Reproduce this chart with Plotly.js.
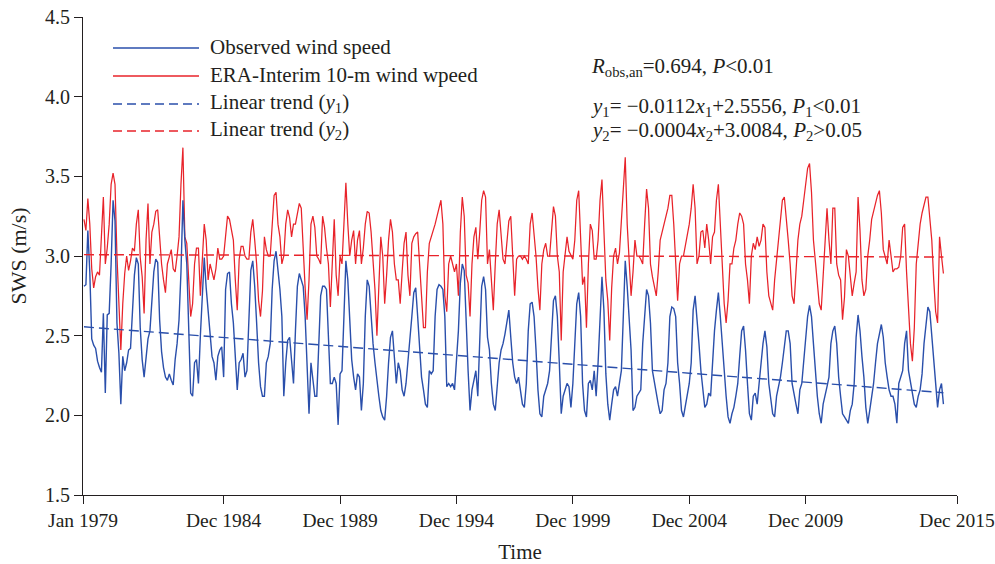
<!DOCTYPE html>
<html><head><meta charset="utf-8">
<script src="https://cdn.plot.ly/plotly-3.0.1.min.js"></script>
<style>html,body{margin:0;padding:0;background:#fff}#chart{width:995px;height:564px}</style>
</head><body><div id="chart"></div>
<script>
// Monthly series, Jan 1979 – Dec 2015 (one row per year, Jan..Dec)
const observedName = 'Observed wind speed';
const observed = [
2.81,2.82,3.16,2.90,2.48,2.44,2.42,2.34,2.30,2.27,2.64,2.14,
2.63,2.64,2.95,3.35,3.22,2.58,2.39,2.07,2.37,2.28,2.33,2.41,
2.42,2.70,2.88,2.99,2.95,2.55,2.35,2.24,2.38,2.48,2.53,2.70,
2.90,2.98,2.96,2.60,2.40,2.30,2.24,2.22,2.26,2.22,2.19,2.35,
2.45,2.60,2.90,3.35,3.10,2.95,2.55,2.14,2.12,2.33,2.35,2.20,
2.50,2.75,2.99,2.80,2.66,2.53,2.37,2.33,2.22,2.37,2.41,2.43,
2.24,2.79,2.89,2.90,2.70,2.58,2.33,2.16,2.33,2.35,2.39,2.24,
2.28,2.62,2.91,2.97,2.81,2.58,2.33,2.18,2.12,2.12,2.33,2.37,
2.45,2.79,2.97,3.03,2.91,2.79,2.62,2.12,2.33,2.47,2.49,2.33,
2.20,2.53,2.81,2.89,2.85,2.81,2.62,2.28,2.01,2.33,2.20,2.12,
2.12,2.43,2.75,2.81,2.81,2.79,2.45,2.20,2.20,2.24,2.20,1.94,
2.26,2.28,2.62,2.97,2.85,2.62,2.35,2.24,2.16,2.26,2.24,2.03,
2.20,2.62,2.85,2.81,2.62,2.45,2.33,2.20,2.12,2.03,1.99,1.97,
2.12,2.33,2.49,2.53,2.33,2.20,2.33,2.28,2.16,2.12,2.20,2.33,
2.45,2.62,2.77,2.80,2.62,2.43,2.24,2.16,2.07,2.05,2.28,2.26,
2.28,2.62,2.79,2.82,2.81,2.79,2.62,2.18,2.20,2.18,2.20,2.16,
2.33,2.53,2.83,2.95,2.91,2.53,2.28,2.03,2.16,2.22,2.28,2.12,
2.49,2.81,2.87,2.79,2.49,2.41,2.20,2.07,2.03,2.20,2.33,2.41,
2.45,2.51,2.58,2.66,2.49,2.33,2.24,2.20,2.24,2.16,2.07,2.05,
2.20,2.53,2.70,2.71,2.62,2.41,2.16,2.01,1.99,2.12,2.16,2.20,
2.28,2.53,2.72,2.75,2.62,2.33,2.01,2.12,2.16,2.20,2.18,2.05,
2.20,2.45,2.70,2.77,2.62,2.20,2.03,1.99,2.20,2.22,2.16,2.28,
2.12,2.33,2.66,2.87,2.66,2.26,2.07,1.97,2.07,2.16,2.18,2.12,
2.20,2.28,2.62,2.97,2.81,2.62,2.41,2.03,2.05,2.12,2.14,2.16,
2.45,2.62,2.79,2.75,2.58,2.28,2.20,2.12,2.07,2.01,2.03,2.16,
2.20,2.33,2.62,2.68,2.67,2.62,2.33,2.20,2.03,1.99,2.07,2.12,
2.20,2.33,2.66,2.75,2.62,2.45,2.28,2.16,2.05,2.07,2.14,2.12,
2.33,2.53,2.66,2.77,2.62,2.45,2.26,2.12,1.99,1.95,2.01,2.05,
2.12,2.20,2.37,2.53,2.56,2.41,2.20,2.01,1.97,2.12,2.14,2.07,
2.20,2.33,2.45,2.53,2.43,2.20,2.12,2.01,1.99,2.12,2.18,2.24,
2.33,2.45,2.53,2.53,2.45,2.20,2.12,2.07,2.01,2.16,2.20,2.33,
2.45,2.62,2.69,2.62,2.45,2.28,2.12,2.01,1.95,2.07,2.12,2.18,
2.24,2.45,2.53,2.56,2.45,2.24,2.12,2.01,1.99,1.97,1.95,2.03,
2.07,2.20,2.49,2.63,2.53,2.37,2.24,2.05,1.95,2.03,2.12,2.20,
2.33,2.45,2.51,2.57,2.49,2.33,2.24,2.16,2.12,2.12,2.07,1.95,
2.20,2.24,2.28,2.45,2.53,2.28,2.20,2.12,2.07,2.05,2.12,2.16,
2.26,2.45,2.56,2.68,2.65,2.49,2.33,2.16,2.05,2.16,2.20,2.07
];
const eraName = 'ERA-Interim 10-m wind wpeed';
const eraInterim = [
3.23,3.16,3.36,3.20,2.92,2.80,2.87,2.90,2.88,3.10,3.37,2.95,
3.05,3.20,3.45,3.52,3.45,3.00,2.70,2.41,2.70,2.89,3.00,2.91,
2.97,3.05,3.03,3.20,3.29,2.99,2.87,2.64,3.10,3.33,2.95,3.15,
3.20,3.28,3.29,3.10,2.95,2.85,2.77,2.95,3.00,3.04,2.92,2.90,
3.00,3.12,3.45,3.68,3.12,3.08,2.85,2.62,2.70,2.95,3.05,3.05,
2.75,2.95,3.20,3.10,2.85,2.95,2.90,2.85,2.92,3.05,2.98,2.98,
3.00,3.15,3.25,3.23,3.16,3.10,2.85,2.66,2.98,3.06,3.06,3.00,
2.98,2.98,3.15,3.23,3.10,2.95,2.72,2.62,2.78,3.12,3.04,3.00,
3.00,3.20,3.38,3.40,3.20,3.12,2.95,3.00,3.20,3.29,3.24,3.12,
3.20,3.20,3.28,3.33,3.30,3.00,2.80,2.60,2.85,3.20,3.25,3.18,
3.00,2.98,2.95,3.25,3.18,3.05,2.95,2.68,2.95,3.23,2.88,2.75,
3.00,2.95,3.20,3.46,3.20,3.00,3.10,3.16,2.95,3.10,3.16,2.95,
3.05,3.20,3.28,3.27,3.15,2.95,2.79,2.50,2.85,3.12,3.00,2.70,
2.88,3.10,3.23,3.15,2.95,2.85,2.85,2.70,2.90,3.08,3.15,2.88,
2.75,3.08,3.12,3.14,3.15,2.95,2.70,2.55,2.55,2.90,3.08,3.12,
3.15,3.20,3.25,3.30,3.35,3.20,2.75,2.65,2.95,3.00,2.95,2.90,
2.95,2.75,3.15,3.37,3.25,2.88,2.83,2.62,2.95,3.12,3.18,2.98,
3.15,3.35,3.41,3.37,2.95,3.04,2.85,2.66,2.95,3.20,3.29,3.10,
2.98,2.95,3.08,3.22,3.25,2.95,2.75,2.98,3.00,3.00,2.98,3.00,
2.98,2.95,3.20,3.27,3.15,3.00,2.80,2.66,2.95,3.04,3.08,3.00,
3.00,3.15,3.31,3.25,3.00,2.90,2.47,2.90,3.00,3.12,3.03,3.00,
2.98,3.10,3.35,3.41,3.15,2.82,2.87,2.55,2.95,3.20,3.16,2.98,
2.98,3.10,3.35,3.48,3.16,2.85,2.72,2.47,2.80,3.00,3.05,2.95,
3.02,3.20,3.40,3.62,3.20,2.95,2.75,2.90,3.10,3.00,3.00,2.98,
2.95,3.20,3.42,3.30,2.95,2.87,2.80,2.75,2.90,3.10,3.15,3.20,
3.25,3.30,3.38,3.38,3.20,2.98,2.72,2.95,3.00,3.00,3.06,3.12,
3.20,3.30,3.45,3.30,2.95,3.00,3.15,3.16,3.05,3.20,3.10,2.95,
3.12,3.15,3.35,3.45,3.20,2.90,2.70,2.58,2.72,2.95,2.95,3.05,
3.10,3.20,3.27,3.25,3.20,2.95,2.85,2.70,3.00,3.08,3.04,3.12,
3.06,3.10,3.20,3.18,2.90,2.75,2.70,2.66,2.85,2.98,3.10,3.25,
3.35,3.37,3.25,3.10,2.95,2.75,2.70,2.90,3.10,3.20,3.25,3.35,
3.45,3.55,3.58,3.40,3.10,2.95,2.85,2.70,2.66,2.90,3.15,3.30,
3.10,2.95,3.30,3.30,2.95,2.88,2.85,2.60,2.74,3.04,3.00,2.88,
2.75,2.83,2.90,3.37,3.16,2.85,2.75,2.79,3.00,3.10,3.23,3.28,
3.33,3.38,3.41,3.27,3.04,3.00,2.95,3.10,3.00,2.90,2.92,2.92,
2.93,3.00,3.18,3.20,2.90,2.65,2.45,2.34,2.55,2.95,3.10,3.20,
3.27,3.33,3.37,3.37,3.25,3.10,2.85,2.65,2.58,3.12,3.00,2.89
];
// Linear trends as printed on the chart: y = slope * x(years since Jan 1979) + intercept
const trendNames = ['Linear trend (<i>y</i><sub>1</sub>)', 'Linear trend (<i>y</i><sub>2</sub>)'];
const trendSlope = [-0.0112, -0.0004];
const trendIntercept = [2.5556, 3.0084];
const xTickLabels = ['Jan 1979','Dec 1984','Dec 1989','Dec 1994','Dec 1999','Dec 2004','Dec 2009','Dec 2015'];
const yTickValues = [1.5, 2.0, 2.5, 3.0, 3.5, 4.0, 4.5];
const statLines = [
  '<i>R</i><sub>obs,an</sub>=0.694, <i>P</i>&lt;0.01',
  '<i>y</i><sub>1</sub>= −0.0112<i>x</i><sub>1</sub>+2.5556, <i>P</i><sub>1</sub>&lt;0.01',
  '<i>y</i><sub>2</sub>= −0.0004<i>x</i><sub>2</sub>+3.0084, <i>P</i><sub>2</sub>&gt;0.05'
];

// ---- drawing ----
const W = 995, H = 564;
const M = {l: 83, r: 38, t: 17, b: 69};
const PW = W - M.l - M.r, PH = H - M.t - M.b;
const px = x => (x - M.l) / PW;
const py = y => (H - M.b - y) / PH;

const BLUE = '#2a4fab', RED = '#e8232a', INK = '#231f20';
const FONT = 'Liberation Serif, Times New Roman, serif';

const months = observed.map((_, i) => i);
const xMin = -0.5, xMax = 450;
const lastIdx = months.length - 1;

function trendTrace(k, color) {
  const xs = [0, lastIdx];
  return {x: xs, y: xs.map(m => trendIntercept[k] + trendSlope[k] * m / 12),
    mode: 'lines', line: {color: color, width: 1.4, dash: '10px,5px'}, showlegend: false, hoverinfo: 'skip'};
}

const traces = [
  {x: months, y: eraInterim, mode: 'lines', line: {color: RED, width: 1.25}, showlegend: false},
  {x: months, y: observed, mode: 'lines', line: {color: BLUE, width: 1.4}, showlegend: false},
  trendTrace(1, RED),
  trendTrace(0, BLUE)
];

const tickVals = xTickLabels.map((lab, i) => {
  if (i === 0) return xMin;
  if (i === xTickLabels.length - 1) return xMax;
  return (parseInt(lab.slice(4), 10) - 1979 + 1) * 12;
});

// manual legend
const legendRows = [
  {name: observedName, color: BLUE, dash: 'solid', y: 48},
  {name: eraName, color: RED, dash: 'solid', y: 76},
  {name: trendNames[0], color: BLUE, dash: '9px,5px', y: 104},
  {name: trendNames[1], color: RED, dash: '9px,5px', y: 131}
];
const shapes = legendRows.map(r => ({type: 'line', xref: 'paper', yref: 'paper',
  x0: px(113), x1: px(199), y0: py(r.y), y1: py(r.y), line: {color: r.color, width: 1.3, dash: r.dash}}));
const annotations = legendRows.map(r => ({xref: 'paper', yref: 'paper', x: px(208), y: py(r.y - 1),
  xanchor: 'left', yanchor: 'middle', showarrow: false, text: r.name, font: {family: FONT, size: 21, color: INK}}));
const statY = [67, 107, 131];
statLines.forEach((t, i) => annotations.push({xref: 'paper', yref: 'paper', x: px(589), y: py(statY[i]),
  xanchor: 'left', yanchor: 'middle', showarrow: false, text: t, font: {family: FONT, size: 21, color: INK}}));

const axisCommon = {showline: true, linecolor: INK, linewidth: 1, ticks: 'outside', ticklen: 8, tickwidth: 1,
  tickcolor: INK, showgrid: false, zeroline: false, tickfont: {family: FONT, size: 20, color: INK}};

const layout = {
  width: W, height: H, margin: M, paper_bgcolor: '#fff', plot_bgcolor: '#fff',
  font: {family: FONT, color: INK},
  showlegend: false,
  xaxis: Object.assign({}, axisCommon, {range: [xMin, xMax], tickmode: 'array', tickvals: tickVals, ticktext: xTickLabels,
    ticklabeloverflow: 'allow', tickfont: {family: FONT, size: 19.5, color: INK},
    title: {text: 'Time', font: {family: FONT, size: 21, color: INK}, standoff: 14}}),
  yaxis: Object.assign({}, axisCommon, {range: [1.5, 4.5], tickmode: 'array', tickvals: yTickValues,
    ticktext: yTickValues.map(v => v.toFixed(1)),
    title: {text: 'SWS (m/s)', font: {family: FONT, size: 22, color: INK}, standoff: 12}}),
  shapes: shapes, annotations: annotations
};
Plotly.newPlot('chart', traces, layout, {displayModeBar: false, staticPlot: true});
</script></body></html>
